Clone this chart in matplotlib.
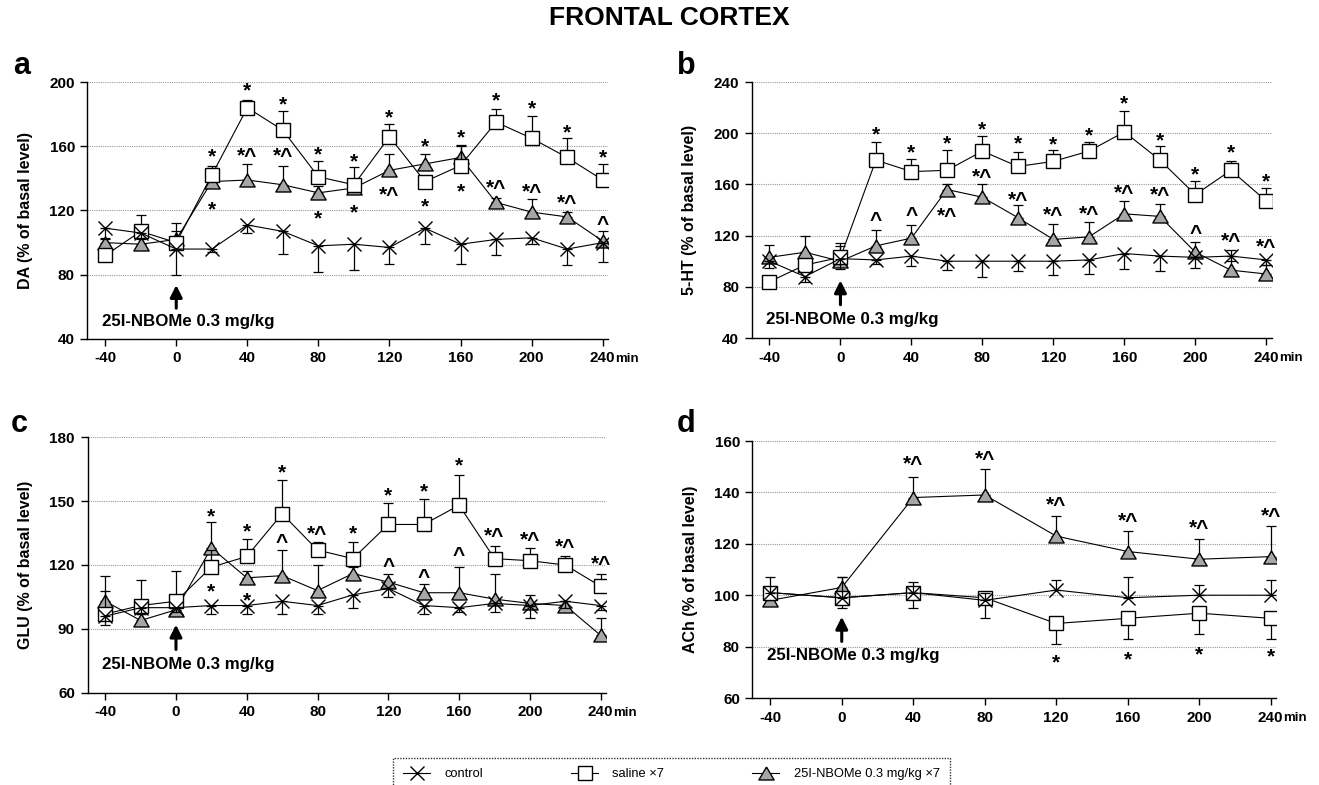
import matplotlib
matplotlib.use("Agg")
import matplotlib.pyplot as plt
from matplotlib.lines import Line2D

# ---------------- data ----------------
time_long = [-40, -20, 0, 20, 40, 60, 80, 100, 120, 140, 160, 180, 200, 220, 240]
time_short = [-40, 0, 40, 80, 120, 160, 200, 240]

# a: DA
da_ctrl = [109, 106, 96, 96, 111, 107, 98, 99, 97, 109, 99, 102, 103, 96, 100]
da_ctrl_err = [7, 4, 16, 2, 5, 14, 16, 16, 10, 10, 12, 10, 4, 10, 12]
da_sal = [92, 107, 100, 142, 184, 170, 141, 136, 166, 138, 148, 175, 165, 153, 139]
da_sal_err = [4, 10, 12, 6, 5, 12, 10, 11, 8, 2, 12, 8, 14, 12, 10]
da_nbome = [100, 99, 102, 138, 139, 136, 131, 134, 145, 149, 153, 125, 119, 116, 101]
da_nbome_err = [3, 7, 5, 4, 10, 12, 4, 3, 10, 6, 8, 3, 8, 3, 6]

# b: 5-HT
ht_ctrl = [100, 88, 102, 101, 104, 100, 100, 100, 100, 101, 106, 104, 103, 104, 101]
ht_ctrl_err = [5, 4, 8, 3, 8, 7, 12, 8, 11, 11, 12, 12, 8, 4, 4]
ht_sal = [84, 97, 103, 179, 170, 171, 186, 174, 178, 186, 201, 179, 152, 171, 147]
ht_sal_err = [4, 4, 11, 14, 10, 16, 12, 11, 9, 7, 16, 11, 11, 7, 10]
ht_nbome = [103, 107, 100, 112, 118, 156, 150, 134, 117, 119, 137, 135, 107, 93, 90]
ht_nbome_err = [10, 13, 12, 12, 10, 4, 10, 10, 12, 12, 10, 10, 8, 16, 7]

# c: GLU
glu_ctrl = [96, 100, 100, 101, 101, 103, 101, 106, 109, 101, 100, 102, 101, 103, 101]
glu_ctrl_err = [4, 3, 2, 4, 4, 6, 4, 6, 4, 4, 2, 4, 6, 3, 2]
glu_sal = [97, 101, 103, 119, 124, 144, 127, 123, 139, 139, 148, 123, 122, 120, 110]
glu_sal_err = [11, 12, 14, 8, 8, 16, 4, 8, 10, 12, 14, 6, 6, 4, 6]
glu_nbome = [103, 94, 99, 128, 114, 115, 108, 116, 112, 107, 107, 104, 102, 101, 87]
glu_nbome_err = [12, 3, 3, 12, 3, 12, 12, 3, 4, 4, 12, 12, 4, 2, 8]

# d: ACh
ach_ctrl = [101, 99, 101, 98, 102, 99, 100, 100]
ach_ctrl_err = [6, 8, 4, 3, 4, 8, 4, 6]
ach_sal = [101, 99, 101, 99, 89, 91, 93, 91]
ach_sal_err = [3, 4, 6, 8, 8, 8, 8, 8]
ach_nbome = [98, 103, 138, 139, 123, 117, 114, 115]
ach_nbome_err = [3, 4, 8, 10, 8, 8, 8, 12]

# significance marks: (time, text, series it belongs to, offset in y units)
da_marks = [
    (20, "*", "sal", 15), (20, "*", "tri", -14),
    (40, "*", "sal", 14), (40, "*^", "tri", 18),
    (60, "*", "sal", 19), (60, "*^", "tri", 21),
    (80, "*", "sal", 17), (80, "*", "tri", -13),
    (100, "*", "sal", 18), (100, "*", "tri", -12),
    (120, "*", "sal", 15), (120, "*^", "tri", -12),
    (140, "*", "tri", 14), (140, "*", "sal", -12),
    (160, "*", "tri", 16), (160, "*", "sal", -13),
    (180, "*", "sal", 17), (180, "*^", "tri", 12),
    (200, "*", "sal", 22), (200, "*^", "tri", 16),
    (220, "*", "sal", 19), (220, "*^", "tri", 12),
    (240, "*", "sal", 17), (240, "^", "tri", 14),
]
ht_marks = [
    (20, "*", "sal", 24), (20, "^", "tri", 24),
    (40, "*", "sal", 19), (40, "^", "tri", 22),
    (60, "*", "sal", 25), (60, "*^", "tri", -17),
    (80, "*", "sal", 21), (80, "*^", "tri", 20),
    (100, "*", "sal", 22), (100, "*^", "tri", 18),
    (120, "*", "sal", 17), (120, "*^", "tri", 23),
    (140, "*", "sal", 16), (140, "*^", "tri", 22),
    (160, "*", "sal", 26), (160, "*^", "tri", 20),
    (180, "*", "sal", 19), (180, "*^", "tri", 21),
    (200, "*", "sal", 20), (200, "^", "tri", 19),
    (220, "*", "sal", 18), (220, "*^", "tri", 27),
    (240, "*", "sal", 19), (240, "*^", "tri", 25),
]
glu_marks = [
    (20, "*", "sal", 26), (20, "*", "sal", -9),
    (40, "*", "sal", 14), (40, "*", "tri", -8),
    (60, "*", "sal", 22), (60, "^", "tri", 18),
    (80, "*^", "sal", 10),
    (100, "*", "sal", 14),
    (120, "*", "sal", 16), (120, "^", "tri", 10),
    (140, "*", "sal", 18), (140, "^", "tri", 10),
    (160, "*", "sal", 21), (160, "^", "tri", 20),
    (180, "*^", "sal", 13),
    (200, "*^", "sal", 12),
    (220, "*^", "sal", 11),
    (240, "*^", "sal", 13),
]
ach_marks = [
    (40, "*^", "tri", 15), (80, "*^", "tri", 16), (120, "*^", "tri", 14),
    (160, "*^", "tri", 14), (200, "*^", "tri", 14), (240, "*^", "tri", 18),
    (120, "*", "sal", -13), (160, "*", "sal", -14),
    (200, "*", "sal", -14), (240, "*", "sal", -13),
]

legend_labels = ["control", "saline \u00d77", "25I-NBOMe 0.3 mg/kg \u00d77"]

# ---------------- style ----------------
plt.rcParams["font.family"] = ["Liberation Sans", "DejaVu Sans"]
plt.rcParams["axes.unicode_minus"] = False

GREY = "#a6a6a6"
TRI = [(0, 0.85), (-1, -0.85), (1, -0.85), (0, 0.85)]
MK_X = dict(marker="x", ms=10, mew=1.0)
MK_SQ = dict(marker="s", ms=10, mew=1.0, mfc="white", mec="black")
MK_TRI = dict(marker=TRI, ms=11, mew=1.0, mfc=GREY, mec="black")

W, H = 1319, 785
fig = plt.figure(figsize=(W / 100, H / 100), dpi=100)


def px_axes(left, top, right, bottom):
    return fig.add_axes([left / W, 1 - bottom / H, (right - left) / W, (bottom - top) / H])


def draw_panel(ax, x, ctrl, ctrl_err, sal, sal_err, tri, tri_err, err_side,
               ylim, yticks, xticks, ylabel, marks, arrow_tail, arrow_tip, text_y):
    zeros = [0] * len(x)
    series = [
        (ctrl, ctrl_err, err_side[0], MK_X, 5),
        (sal, sal_err, err_side[1], MK_SQ, 4),
        (tri, tri_err, err_side[2], MK_TRI, 3),
    ]
    for y, e, side, mk, z in series:
        yerr = [e, zeros] if side == "low" else [zeros, e]
        ax.errorbar(x, y, yerr=yerr, fmt="none", ecolor="black", elinewidth=0.9,
                    capsize=3.6, capthick=0.9, zorder=z)
        ax.plot(x, y, color="black", lw=0.8, zorder=z, **mk)

    lookup = {"sal": sal, "tri": tri}
    for t, txt, key, dy in marks:
        yv = lookup[key][x.index(t)] + dy
        ax.annotate(txt, xy=(t, yv), xytext=(0, -8), textcoords="offset points",
                    ha="center", va="baseline", fontsize=15, fontweight="bold", zorder=6)

    ax.set_xlim(-50, 243)
    ax.set_ylim(*ylim)
    ax.set_yticks(yticks)
    ax.set_xticks(xticks)
    ax.yaxis.grid(True, ls=(0, (1, 1)), color="#9a9a9a", lw=0.8)
    ax.set_axisbelow(True)
    for s in ("top", "right"):
        ax.spines[s].set_visible(False)
    for s in ("left", "bottom"):
        ax.spines[s].set_linewidth(1.0)
    ax.tick_params(axis="both", length=5, width=1.0, pad=4)
    for lab in ax.get_xticklabels() + ax.get_yticklabels():
        lab.set_fontweight("bold")
        lab.set_fontsize(11)
    ax.set_ylabel(ylabel, fontsize=11.5, fontweight="bold", labelpad=12)

    # injection arrow and its label
    ax.annotate("", xy=(0, arrow_tip), xycoords=("data", "axes fraction"),
                xytext=(0, arrow_tail), textcoords=("data", "axes fraction"),
                arrowprops=dict(arrowstyle="-|>", lw=2.2, color="black", mutation_scale=18,
                                shrinkA=0, shrinkB=0))
    ax.text(-42, text_y, "25I-NBOMe 0.3 mg/kg", transform=ax.get_xaxis_transform(),
            ha="left", va="center", fontsize=12.2, fontweight="bold")
    ax.annotate("min", xy=(240, 0), xycoords=("data", "axes fraction"),
                xytext=(9, -16.5), textcoords="offset points", ha="left", va="baseline",
                fontsize=9.5, fontweight="bold")


ticks_long = [-40, 0, 40, 80, 120, 160, 200, 240]

ax_a = px_axes(87.4, 82, 608, 339)
draw_panel(ax_a, time_long, da_ctrl, da_ctrl_err, da_sal, da_sal_err, da_nbome, da_nbome_err,
           ("low", "up", "up"), (40, 200), [40, 80, 120, 160, 200], ticks_long,
           "DA (% of basal level)", da_marks, 0.12, 0.21, 0.07)

ax_b = px_axes(751.7, 82, 1271.7, 338)
draw_panel(ax_b, time_long, ht_ctrl, ht_ctrl_err, ht_sal, ht_sal_err, ht_nbome, ht_nbome_err,
           ("low", "up", "up"), (40, 240), [40, 80, 120, 160, 200, 240], ticks_long,
           "5-HT (% of basal level)", ht_marks, 0.13, 0.225, 0.074)

ax_c = px_axes(87.5, 437, 606, 693)
draw_panel(ax_c, time_long, glu_ctrl, glu_ctrl_err, glu_sal, glu_sal_err, glu_nbome, glu_nbome_err,
           ("low", "up", "up"), (60, 180), [60, 90, 120, 150, 180], ticks_long,
           "GLU (% of basal level)", glu_marks, 0.17, 0.267, 0.11)

ax_d = px_axes(752.4, 441, 1276, 698)
draw_panel(ax_d, time_short, ach_ctrl, ach_ctrl_err, ach_sal, ach_sal_err, ach_nbome, ach_nbome_err,
           ("up", "low", "up"), (60, 160), [60, 80, 100, 120, 140, 160], time_short,
           "ACh (% of basal level)", ach_marks, 0.22, 0.316, 0.164)

for lab, (px, py) in zip("abcd", [(13, 74), (677, 74), (11, 432), (677, 432)]):
    fig.text(px / W, 1 - py / H, lab, fontsize=22, fontweight="bold", ha="left", va="baseline")

fig.text(669.5 / W, 1 - 18 / H, "FRONTAL CORTEX", fontsize=19, fontweight="bold",
         ha="center", va="center")

handles = [
    Line2D([], [], color="black", lw=0.8, **MK_X),
    Line2D([], [], color="black", lw=0.8, **MK_SQ),
    Line2D([], [], color="black", lw=0.8, **MK_TRI),
]
leg = fig.legend(handles, legend_labels, loc="upper left", bbox_to_anchor=(393 / W, 1 - 758 / H),
                 ncol=3, fontsize=9.3, frameon=True, fancybox=False, borderaxespad=0,
                 handlelength=2.1, handletextpad=1.1, columnspacing=6.8, borderpad=0.8)
frame = leg.get_frame()
frame.set_edgecolor("black")
frame.set_linestyle((0, (1, 1)))
frame.set_linewidth(1.0)

fig.savefig("out.png", dpi=100)
